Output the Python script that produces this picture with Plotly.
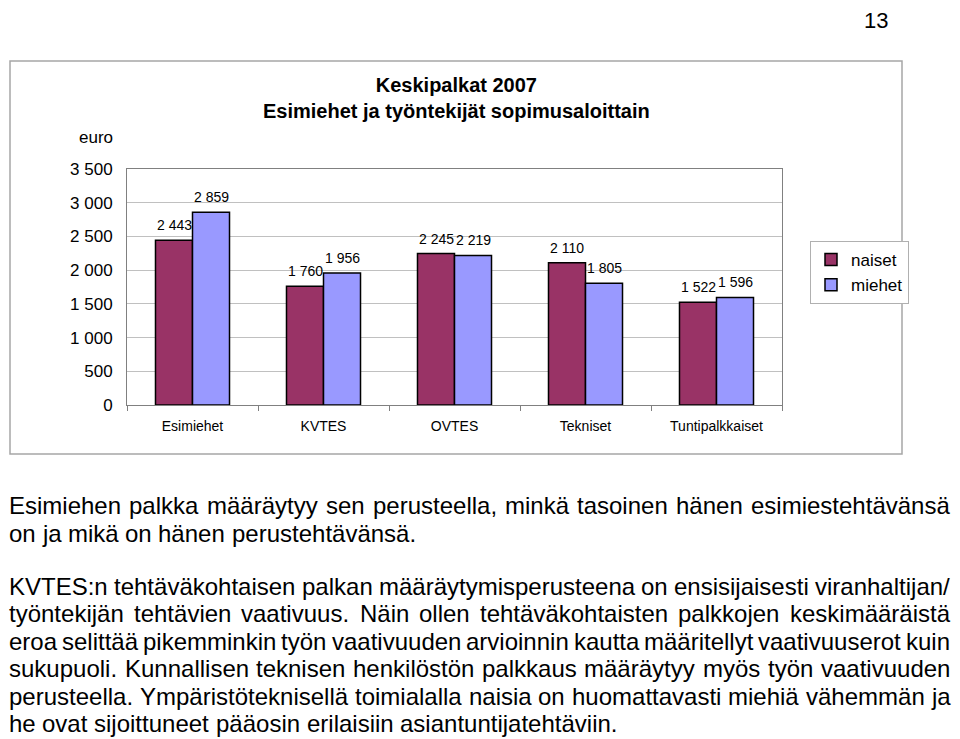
import plotly.graph_objects as go

# chart data
categories = ["Esimiehet", "KVTES", "OVTES", "Tekniset", "Tuntipalkkaiset"]
naiset = [2443, 1760, 2245, 2110, 1522]
miehet = [2859, 1956, 2219, 1805, 1596]
yticks = [0, 500, 1000, 1500, 2000, 2500, 3000, 3500]

# page text below the chart, (line, justified?)
text_lines = [
    ("Esimiehen palkka määräytyy sen perusteella, minkä tasoinen hänen esimiestehtävänsä", True),
    ("on ja mikä on hänen perustehtävänsä.", False),
    ("KVTES:n tehtäväkohtaisen palkan määräytymisperusteena on ensisijaisesti viranhaltijan/", True),
    ("työntekijän tehtävien vaativuus. Näin ollen tehtäväkohtaisten palkkojen keskimääräistä", True),
    ("eroa selittää pikemminkin työn vaativuuden arvioinnin kautta määritellyt vaativuuserot kuin", True),
    ("sukupuoli. Kunnallisen teknisen henkilöstön palkkaus määräytyy myös työn vaativuuden", True),
    ("perusteella. Ympäristöteknisellä toimialalla naisia on huomattavasti miehiä vähemmän ja", True),
    ("he ovat sijoittuneet pääosin erilaisiin asiantuntijatehtäviin.", False),
]
line_y = [505, 533, 586, 613.5, 641, 668.5, 696, 723.5]

FONT = "Liberation Sans, Arial, sans-serif"

# the page body has an 8px margin, so the figure is drawn 8px smaller
# and all screen positions below are given in window pixels
OFF = 8
FIG_W, FIG_H = 960 - OFF, 739 - OFF
ML, MT = 127 - OFF, 169 - OFF
MR = FIG_W - (782 - OFF)
MB = FIG_H - (405 - OFF)
PW = FIG_W - ML - MR
PH = FIG_H - MT - MB
BASE = 405


def px_x(px):
    return (px - 127) / PW


def px_y(py):
    return (BASE - py) / PH


# Arial / Helvetica advance widths (1/1000 em), used to justify lines
W = {" ": 278, ",": 278, ".": 278, ":": 278, "/": 278,
     "a": 556, "b": 556, "c": 500, "d": 556, "e": 556, "f": 278, "g": 556, "h": 556,
     "i": 222, "j": 222, "k": 500, "l": 222, "m": 833, "n": 556, "o": 556, "p": 556,
     "q": 556, "r": 333, "s": 500, "t": 278, "u": 556, "v": 500, "w": 722, "x": 500,
     "y": 500, "z": 500, "ä": 556, "ö": 556,
     "E": 667, "K": 667, "V": 667, "T": 611, "S": 667, "N": 722, "Y": 667}


def word_w(word, size):
    return sum(W.get(c, 556) for c in word) * size / 1000.0


fig = go.Figure()
fig.add_trace(go.Bar(x=categories, y=naiset, name="naiset",
                     marker=dict(color="#993366", line=dict(color="black", width=1.5))))
fig.add_trace(go.Bar(x=categories, y=miehet, name="miehet",
                     marker=dict(color="#9999FF", line=dict(color="black", width=1.5))))

annotations = []

# value labels above bars
for vals, shift in [(naiset, -18.5), (miehet, 18.5)]:
    for c, v in zip(categories, vals):
        annotations.append(dict(x=c, y=v, xref="x", yref="y", xshift=shift, yshift=15,
                                text="{:,}".format(v).replace(",", " "), showarrow=False,
                                font=dict(size=14, color="black", family=FONT)))

# title, unit, page number
annotations.append(dict(x=px_x(456), y=px_y(98), xref="paper", yref="paper", showarrow=False,
                        xanchor="center", yanchor="middle",
                        text="<b>Keskipalkat 2007<br>Esimiehet ja työntekijät sopimusaloittain</b>",
                        font=dict(size=20, color="black", family=FONT)))
annotations.append(dict(x=px_x(115), y=px_y(138), xref="paper", yref="paper", showarrow=False,
                        xanchor="right", yanchor="middle", text="euro",
                        font=dict(size=17, color="black", family=FONT)))
annotations.append(dict(x=px_x(876), y=px_y(8), xref="paper", yref="paper", showarrow=False,
                        xanchor="center", yanchor="top", text="13", borderpad=0, borderwidth=0,
                        font=dict(size=22, color="black", family=FONT)))

# body text, justified word by word
size = 24
left, right = 9, 950
for (line, just), yy in zip(text_lines, line_y):
    words = line.split(" ")
    widths = [word_w(w, size) for w in words]
    if just and len(words) > 1:
        gap = (right - left - sum(widths)) / (len(words) - 1)
    else:
        gap = W[" "] * size / 1000.0
    x = left
    for w, ww in zip(words, widths):
        annotations.append(dict(x=px_x(x), y=px_y(yy), xref="paper", yref="paper", showarrow=False,
                                xanchor="left", yanchor="middle", text=w, borderpad=0, borderwidth=0,
                                font=dict(size=size, color="black", family=FONT)))
        x += ww + gap

# outer chart frame
shapes = [dict(type="rect", xref="paper", yref="paper",
               x0=px_x(10), x1=px_x(902), y0=px_y(454), y1=px_y(61),
               line=dict(color="#a6a6a6", width=1.5), layer="below")]

fig.update_layout(
    width=FIG_W, height=FIG_H,
    margin=dict(l=ML, r=MR, t=MT, b=MB),
    paper_bgcolor="white", plot_bgcolor="white",
    separators=", ",
    barmode="group", bargap=0.435, bargroupgap=0,
    font=dict(family=FONT, color="black"),
    showlegend=True,
    legend=dict(x=px_x(810), y=px_y(241), xanchor="left", yanchor="top",
                bordercolor="#b0b0b0", borderwidth=1, itemwidth=30,
                font=dict(size=17, color="black", family=FONT)),
    annotations=annotations,
    shapes=shapes,
)
fig.update_yaxes(range=[0, 3500], tickvals=yticks, tickformat=",d",
                 showgrid=True, gridcolor="#c0c0c0", gridwidth=1,
                 showline=True, linecolor="#808080", linewidth=1, mirror=True,
                 ticks="", ticklabelstandoff=10, zeroline=False,
                 tickfont=dict(size=17, color="black", family=FONT))
fig.update_xaxes(showline=True, linecolor="#808080", linewidth=1, mirror=True,
                 ticks="outside", tickson="boundaries", ticklen=5, tickcolor="#808080",
                 ticklabelstandoff=8,
                 tickfont=dict(size=14, color="black", family=FONT))

fig.write_html("out.html")
